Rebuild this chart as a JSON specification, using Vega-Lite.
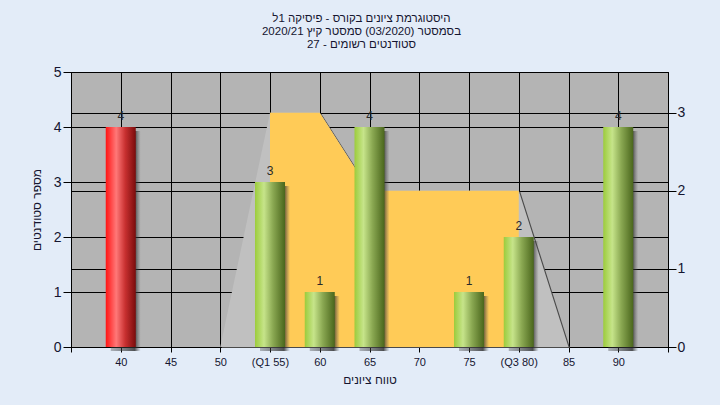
{
  "$schema": "https://vega.github.io/schema/vega-lite/v6.json",
  "width": 597,
  "height": 275,
  "autosize": "none",
  "padding": {"left": 71, "top": 72, "right": 52, "bottom": 58},
  "background": "#e3ecf8",
  "title": {
    "text": ["\u05d4\u05d9\u05e1\u05d8\u05d5\u05d2\u05e8\u05de\u05ea \u05e6\u05d9\u05d5\u05e0\u05d9\u05dd \u05d1\u05e7\u05d5\u05e8\u05e1 - \u05e4\u05d9\u05e1\u05d9\u05e7\u05d4 1\u05dc", "\u05d1\u05e1\u05de\u05e1\u05d8\u05e8  (03/2020)  \u05e1\u05de\u05e1\u05d8\u05e8 \u05e7\u05d9\u05e5 2020/21", "\u05e1\u05d8\u05d5\u05d3\u05e0\u05d8\u05d9\u05dd \u05e8\u05e9\u05d5\u05de\u05d9\u05dd - 27"],
    "anchor": "middle",
    "font": "Liberation Sans",
    "fontSize": 11.5,
    "fontWeight": "normal",
    "color": "#151530",
    "lineHeight": 13,
    "offset": 15,
    "dx": -8
  },
  "datasets": {
    "bars": [
      {"grade": 40, "count": 4, "status": "fail"},
      {"grade": 55, "count": 3, "status": "pass"},
      {"grade": 60, "count": 1, "status": "pass"},
      {"grade": 65, "count": 4, "status": "pass"},
      {"grade": 75, "count": 1, "status": "pass"},
      {"grade": 80, "count": 2, "status": "pass"},
      {"grade": 90, "count": 4, "status": "pass"}
    ],
    "dist": [
      {"grade": 50, "v": 0},
      {"grade": 55, "v": 3},
      {"grade": 60, "v": 3},
      {"grade": 65, "v": 2},
      {"grade": 70, "v": 2},
      {"grade": 75, "v": 2},
      {"grade": 80, "v": 2},
      {"grade": 85, "v": 0}
    ]
  },
  "layer": [
    {
      "data": {"name": "dist"},
      "encoding": {
        "x": {
          "field": "grade", "type": "quantitative",
          "scale": {"domain": [35, 95], "nice": false, "zero": false, "padding": 0},
          "axis": {
            "values": [35, 40, 45, 50, 55, 60, 65, 70, 75, 80, 85, 90, 95],
            "labelExpr": "datum.value == 55 ? '(Q1 55)' : datum.value == 80 ? '(Q3 80)' : (datum.value == 35 || datum.value == 95) ? '' : datum.label",
            "title": "\u05d8\u05d5\u05d5\u05d7 \u05e6\u05d9\u05d5\u05e0\u05d9\u05dd",
            "titleFontSize": 12,
            "titlePadding": 7,
            "labelFontSize": 11,
            "labelPadding": 4,
            "tickSize": 5,
            "grid": true,
            "labelFlush": false,
            "labelOverlap": false
          }
        },
        "y": {
          "field": "v", "type": "quantitative",
          "scale": {"domain": [0, 3.52], "nice": false},
          "axis": {
            "orient": "right",
            "values": [0, 1, 2, 3],
            "title": null,
            "grid": true,
            "tickSize": 8,
            "labelFontSize": 14,
            "labelPadding": 1
          }
        }
      },
      "layer": [
        {"mark": {"type": "area", "color": "#4a4a4a", "xOffset": 1.5, "yOffset": 1}},
        {"mark": {"type": "area", "color": "#c0c0c0"}},
        {
          "transform": [{"filter": "datum.grade >= 55 && datum.grade <= 80"}],
          "mark": {"type": "area", "color": "#ffcb57"}
        }
      ]
    },
    {
      "data": {"name": "bars"},
      "encoding": {
        "x": {"field": "grade", "type": "quantitative"},
        "y": {
          "field": "count", "type": "quantitative",
          "scale": {"domain": [0, 5], "nice": false},
          "axis": {
            "orient": "left",
            "values": [0, 1, 2, 3, 4, 5],
            "title": "\u05de\u05e1\u05e4\u05e8 \u05e1\u05d8\u05d5\u05d3\u05e0\u05d8\u05d9\u05dd",
            "titleFontSize": 12,
            "titlePadding": 10,
            "grid": true,
            "tickSize": 8,
            "labelFontSize": 14,
            "labelPadding": 2
          }
        }
      },
      "layer": [
        {
          "mark": {
            "type": "bar", "size": 30, "xOffset": 5, "yOffset": 4,
            "color": {"gradient": "linear", "x1": 0, "x2": 1, "y1": 0, "y2": 0,
              "stops": [
                {"offset": 0, "color": "rgba(70,70,70,0.35)"},
                {"offset": 0.8, "color": "rgba(40,40,40,0.8)"},
                {"offset": 1, "color": "rgba(90,90,90,0)"}
              ]}
          }
        },
        {
          "transform": [{"filter": "datum.status == 'fail'"}],
          "mark": {
            "type": "bar", "size": 30,
            "color": {"gradient": "linear", "x1": 0, "x2": 1, "y1": 0, "y2": 0,
              "stops": [
                {"offset": 0, "color": "#ff1414"},
                {"offset": 0.35, "color": "#ff7878"},
                {"offset": 0.65, "color": "#c83030"},
                {"offset": 1, "color": "#7a0c0c"}
              ]}
          }
        },
        {
          "transform": [{"filter": "datum.status == 'pass'"}],
          "mark": {
            "type": "bar", "size": 30,
            "color": {"gradient": "linear", "x1": 0, "x2": 1, "y1": 0, "y2": 0,
              "stops": [
                {"offset": 0, "color": "#9ccc3c"},
                {"offset": 0.3, "color": "#c6e48a"},
                {"offset": 0.6, "color": "#8aa852"},
                {"offset": 1, "color": "#4a661c"}
              ]}
          }
        },
        {
          "mark": {"type": "text", "baseline": "alphabetic", "dy": -7, "fontSize": 12, "font": "Liberation Sans", "color": "#2a2a2a"},
          "encoding": {"text": {"field": "count", "type": "quantitative"}}
        },
        {
          "data": {"values": [{"note": "\u05d1\u05de\u05e9\u05d9\u05de\u05d4 : Final_A"}]},
          "mark": {"type": "text", "fontSize": 12, "font": "Liberation Sans", "color": "#151530", "baseline": "middle"},
          "encoding": {
            "x": {"datum": 65},
            "y": {"datum": 4.75},
            "text": {"field": "note"}
          }
        }
      ]
    }
  ],
  "resolve": {"scale": {"y": "independent"}, "axis": {"y": "independent"}},
  "config": {
    "font": "Liberation Sans",
    "view": {"fill": "#b4b4b4", "stroke": "#000000", "strokeWidth": 1},
    "axis": {
      "gridColor": "#000000", "gridOpacity": 1, "gridWidth": 1,
      "domainColor": "#000000", "tickColor": "#000000",
      "labelColor": "#151530", "titleColor": "#151530",
      "labelFont": "Liberation Sans", "titleFont": "Liberation Sans",
      "titleFontWeight": "normal"
    }
  }
}
